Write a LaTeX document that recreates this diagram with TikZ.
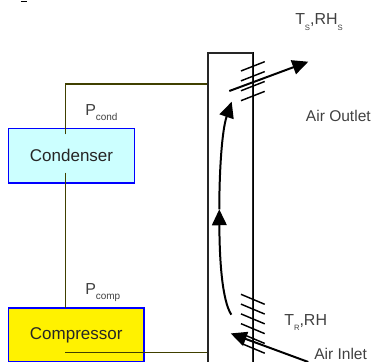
\documentclass[tikz,border=0pt]{standalone}
\usepackage{fontspec}
\setmainfont{Liberation Sans}
\usetikzlibrary{arrows.meta,positioning}
\definecolor{wireolive}{RGB}{64,64,0}
\definecolor{labelgray}{RGB}{64,64,64}
\definecolor{condcyan}{RGB}{204,255,255}
\newcommand{\subtxt}[1]{\raisebox{-3.8pt}{\fontsize{7.5}{9}\selectfont #1}}
\newcommand{\subcap}[1]{\raisebox{-3.8pt}{\fontsize{5.8}{7}\selectfont #1}}
\tikzset{
  unitbox/.style={draw=blue, line width=1.3pt, text=black!85, font=\fontsize{12.8}{15}\selectfont},
  wire/.style={wireolive, line width=1.3pt},
  hatchline/.style={black, line width=1.1pt},
  flowarrow/.style={-{Triangle[length=12pt,width=11pt]}, black, line width=1.5pt},
  tag/.style={text=labelgray, anchor=base west, inner sep=0pt, font=\fontsize{12}{14}\selectfont}
}
\begin{document}
\begin{tikzpicture}
  \useasboundingbox (0,0) rectangle (9.816,9.578);

  %% Scrap at the top edge
  \draw[black, line width=0.8pt] (0.55,9.55) -- (0.71,9.55);

  %% Units
  \node[unitbox, fill=condcyan, minimum width=3.334cm, minimum height=1.442cm] (condenser) at (1.892,5.457) {Condenser};
  \node[unitbox, fill=yellow, minimum width=3.585cm, minimum height=1.421cm] (compressor) at (2.017,0.718) {Compressor};

  %% Duct
  \node[draw=black!85, line width=1.3pt, minimum width=1.183cm, minimum height=8.22cm, anchor=north] (duct) at (6.095,8.202) {};
  \draw[black, line width=1.3pt] (duct.north east) -- (duct.south east);

  %% Wiring
  \coordinate (condtop) at (1.733,6.025);
  \coordinate (condcorner) at (1.733,7.355);
  \coordinate (condlow) at (1.733,5.009);
  \coordinate (comptop) at (1.733,1.429);
  \coordinate (compwire) at (1.72,0.251);
  \draw[wire] (condtop) -- (condcorner) -- (condcorner -| duct.west);
  \draw[wire] (condlow) -- (comptop);
  \draw[wire] (compwire) -- (compwire -| duct.west);

  %% Grilles
  \foreach \k in {0,...,3}
    \draw[hatchline] (6.376,7.700-0.262*\k) -- (7.004,7.946-0.262*\k);
  \foreach \k in {0,...,5}
    \draw[hatchline] (6.376,1.791-0.259*\k) -- (7.004,1.527-0.259*\k);

  %% Air flow
  \coordinate (inletstart) at (8.157,0.0);
  \coordinate (inletend) at (6.104,0.756);
  \coordinate (risestart) at (6.120,1.251);
  \coordinate (risemid) at (5.802,4.040);
  \coordinate (riseend) at (6.130,6.887);
  \coordinate (outletstart) at (6.067,7.170);
  \coordinate (outletend) at (8.157,7.945);
  \draw[flowarrow] (inletstart) -- (inletend);
  \draw[flowarrow] (risestart) .. controls (5.874,1.640) and (5.808,2.70) .. (risemid);
  \draw[flowarrow] (risemid) .. controls (5.803,5.081) and (5.874,6.138) .. (riseend);
  \draw[flowarrow] (outletstart) -- (outletend);

  %% Labels
  \node[tag] (pcond) at (2.249,6.527) {P\subtxt{cond}};
  \node[tag] (pcomp) at (2.249,1.799) {P\subtxt{comp}};
  \node[tag] (supply) at (7.805,8.917) {T\subcap{S},RH\subcap{S}};
  \node[tag] (return) at (7.514,0.960) {T\subcap{R},RH};
  \node[tag, font=\fontsize{11.7}{14}\selectfont] (outlet) at (8.088,6.358) {Air Outlet};
  \node[tag, font=\fontsize{11.7}{14}\selectfont] (inlet) at (8.308,0.053) {Air Inlet};
\end{tikzpicture}
\end{document}
